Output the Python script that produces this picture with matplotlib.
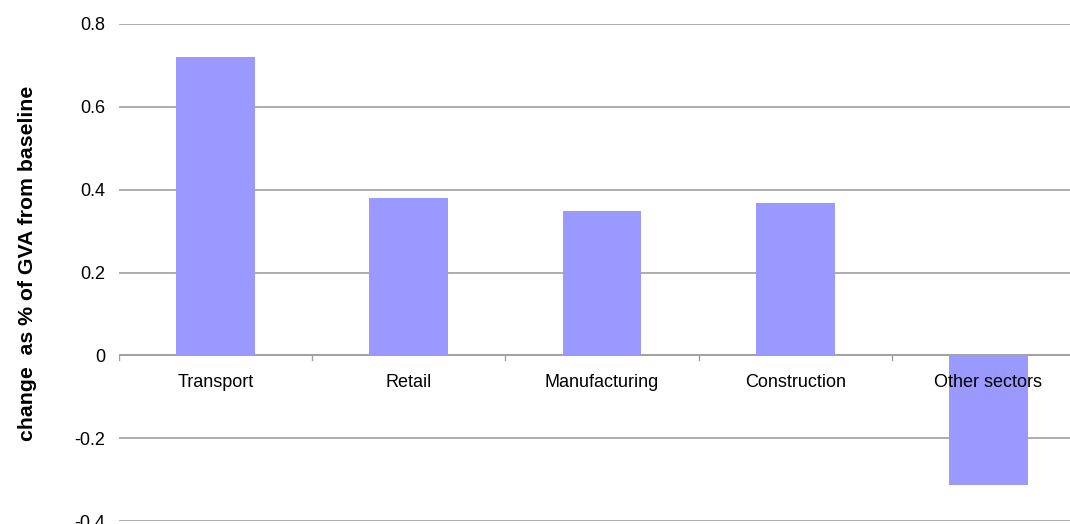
import matplotlib.pyplot as plt

plt.rcParams['font.family'] = ['Liberation Sans', 'DejaVu Sans']

sectors = ['Transport', 'Retail', 'Manufacturing', 'Construction', 'Other sectors']
change = [0.721, 0.379, 0.348, 0.369, -0.314]
yticks = [-0.4, -0.2, 0, 0.2, 0.4, 0.6, 0.8]
ytick_labels = ['-0.4', '-0.2', '0', '0.2', '0.4', '0.6', '0.8']

fig = plt.figure(figsize=(10.7, 5.24), dpi=100)
# axes runs slightly past the right edge of the figure, as in the original
ax = fig.add_axes([119 / 1070, 3 / 524, 966 / 1070, 497 / 524])

x = list(range(len(sectors)))
ax.bar(x, change, width=0.407, color='#9999ff', zorder=2)

ax.set_xlim(-0.5, len(sectors) - 0.5)
ax.set_ylim(-0.4, 0.8)
ax.set_yticks(yticks)
ax.set_yticklabels(ytick_labels, fontsize=13)
ax.yaxis.grid(True, color='#a0a0a0', linewidth=1.2, zorder=0)
ax.tick_params(axis='y', length=0, pad=10)

for sp in ax.spines.values():
    sp.set_visible(False)

# category axis sits on the zero line
ax.axhline(0, color='#a0a0a0', linewidth=1.2, zorder=1)
ax.set_xticks([])
for i in range(len(sectors)):
    ax.plot([i - 0.5, i - 0.5], [0, -0.012], color='#a0a0a0', linewidth=1, zorder=1)
    ax.text(i, -0.066, sectors[i], ha='center', va='center', fontsize=13, zorder=3)

fig.text(28 / 1070, 1 - 263 / 524, 'change  as % of GVA from baseline', rotation=90,
         ha='center', va='center', fontsize=15.3, fontweight='bold')

fig.savefig('out.png', dpi=100)
